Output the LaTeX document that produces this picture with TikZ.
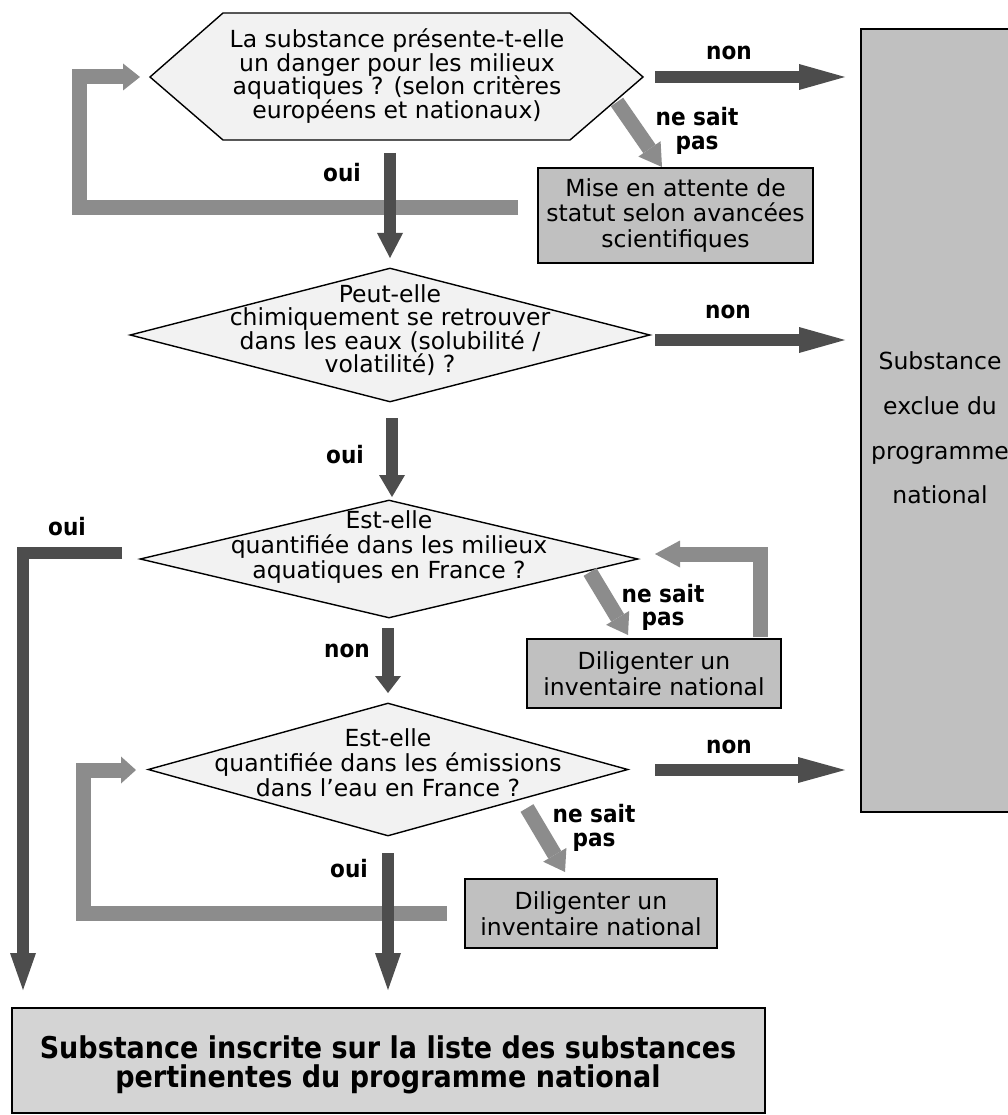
\documentclass[tikz,border=0pt]{standalone}
\usepackage{fontspec}
\setmainfont{DejaVu Sans}
\newfontfamily\lblfont{DejaVu Sans}[FakeStretch=0.9]
\usetikzlibrary{arrows.meta,shapes.geometric}
\definecolor{darkarrow}{HTML}{4D4D4D}
\definecolor{hatcharrow}{HTML}{8C8C8C}
\definecolor{qfill}{HTML}{F2F2F2}
\definecolor{boxfill}{HTML}{C0C0C0}
\definecolor{finalfill}{HTML}{D4D4D4}
\begin{document}
\begin{tikzpicture}[x=1pt,y=-1pt,
  qshape/.style={draw=black, line width=1.4pt, fill=qfill, line join=miter},
  qtext/.style={align=center, inner sep=0pt},
  gbox/.style={draw=black, line width=1.4pt, fill=boxfill, inner sep=0pt, align=center},
  lbl/.style={font=\lblfont\bfseries\fontsize{24}{23.5}\selectfont, align=center, inner sep=0pt},
  darr/.style={draw=darkarrow, line width=12.5pt, line join=miter,
    -{Triangle[width=26pt,length=#1,line width=0pt]}},
  darr/.default=25pt,
  harr/.style={draw=hatcharrow, line width=15pt, line join=miter,
    -{Triangle[width=27pt,length=#1,line width=0pt]}},
  harr/.default=18pt,
]
\useasboundingbox (0,0) rectangle (1008,1115);
\fill[white] (0,0) rectangle (1008,1115);

% ---------- coordinates ----------
\coordinate (a1s) at (390,153);  \coordinate (a1e) at (390,258);
\coordinate (a2s) at (655,77);   \coordinate (a2e) at (845,77);
\coordinate (a3s) at (655,340);  \coordinate (a3e) at (845,340);
\coordinate (a4s) at (392,418);  \coordinate (a4e) at (392,497);
\coordinate (a5s) at (388,628);  \coordinate (a5e) at (388,693);
\coordinate (a6s) at (655,770);  \coordinate (a6e) at (845,770);
\coordinate (a7s) at (388,853);  \coordinate (a7e) at (388,990);
\coordinate (a8s) at (122,553);  \coordinate (a8c) at (23,553);  \coordinate (a8e) at (23,990);

\coordinate (hAs) at (617,102);  \coordinate (hAe) at (662,167);
\coordinate (hBs) at (518,208);  \coordinate (hBc1) at (79,208); \coordinate (hBc2) at (79,77); \coordinate (hBe) at (140,77);
\coordinate (hCs) at (590,572);  \coordinate (hCe) at (628,635);
\coordinate (hDs) at (760,637);  \coordinate (hDc) at (760,554); \coordinate (hDe) at (655,554);
\coordinate (hEs) at (527,808);  \coordinate (hEe) at (565,872);
\coordinate (hFs) at (447,913);  \coordinate (hFc1) at (83,913); \coordinate (hFc2) at (83,770); \coordinate (hFe) at (136,770);

% ---------- question shapes ----------
\draw[qshape] (150,77) -- (223,13) -- (570,13) -- (643,77) -- (570,140) -- (223,140) -- cycle;
\node[qtext, font=\fontsize{23.5}{23.7}\selectfont] (q1) at (397,76)
  {La substance présente-t-elle\\un danger pour les milieux\\aquatiques ? (selon critères\\européens et nationaux)};

\node[diamond, qshape, minimum width=520pt, minimum height=134pt, inner sep=0pt] (d2) at (390,335) {};
\node[qtext, font=\fontsize{23.5}{23}\selectfont] (q2) at (390,330)
  {Peut-elle\\chimiquement se retrouver\\dans les eaux (solubilité /\\volatilité) ?};

\node[diamond, qshape, minimum width=498pt, minimum height=118pt, inner sep=0pt] (d3) at (389,559) {};
\node[qtext, font=\fontsize{23.5}{25}\selectfont] (q3) at (389,547)
  {Est-elle\\quantifiée dans les milieux\\aquatiques en France ?};

\node[diamond, qshape, minimum width=480pt, minimum height=133pt, inner sep=0pt] (d4) at (388,769.5) {};
\node[qtext, font=\fontsize{23.5}{25}\selectfont] (q4) at (388,763)
  {Est-elle\\quantifiée dans les émissions\\dans l’eau en France ?};

% ---------- boxes ----------
\node[gbox, font=\fontsize{23.5}{25.5}\selectfont, minimum width=275pt, minimum height=95pt] (mise) at (675.5,215.5)
  {Mise en attente de\\statut selon avancées\\scientifiques};
\node[gbox, font=\fontsize{23.5}{26}\selectfont, minimum width=254pt, minimum height=69pt] (dil1) at (654,673.5)
  {Diligenter un\\inventaire national};
\node[gbox, font=\fontsize{23.5}{26}\selectfont, minimum width=252pt, minimum height=69pt] (dil2) at (591,913.5)
  {Diligenter un\\inventaire national};

\begin{scope}
\clip (0,0) rectangle (1008,1115);
\node[gbox, minimum width=160pt, minimum height=783pt] (excl) at (941,420.5) {};
\end{scope}
\node[qtext, font=\fontsize{23.5}{44.7}\selectfont] (excltxt) at (940,428)
  {Substance\\exclue du\\programme\\national};

\node[gbox, fill=finalfill, minimum width=753pt, minimum height=105pt] (final) at (388.5,1060.5) {};
\node[qtext, font=\lblfont\bfseries\fontsize{30}{29.5}\selectfont] (finaltxt) at (388,1065)
  {Substance inscrite sur la liste des substances\\pertinentes du programme national};

% ---------- hatched arrows ----------
\draw[harr=22pt] (hAs) -- (hAe);
\draw[harr=17pt] (hBs) -- (hBc1) -- (hBc2) -- (hBe);
\draw[harr=20pt] (hCs) -- (hCe);
\draw[harr=25pt] (hDs) -- (hDc) -- (hDe);
\draw[harr=20pt] (hEs) -- (hEe);
\draw[harr=15pt] (hFs) -- (hFc1) -- (hFc2) -- (hFe);

% ---------- dark arrows ----------
\draw[darr=25pt] (a1s) -- (a1e);
\draw[darr=46pt] (a2s) -- (a2e);
\draw[darr=46pt] (a3s) -- (a3e);
\draw[darr=22pt] (a4s) -- (a4e);
\draw[darr=17pt] (a5s) -- (a5e);
\draw[darr=47pt] (a6s) -- (a6e);
\draw[darr=37pt] (a7s) -- (a7e);
\draw[darr=37pt] (a8s) -- (a8c) -- (a8e);

% ---------- labels ----------
\node[lbl, anchor=base] (lnon1) at (729,60) {non};
\node[lbl, anchor=base] (loui1) at (342,182) {oui};
\node[lbl] (lns1) at (697,131) {ne sait\\pas};
\node[lbl, anchor=base] (lnon2) at (728,318) {non};
\node[lbl, anchor=base] (loui2) at (345,463) {oui};
\node[lbl, anchor=base] (loui3) at (67,535) {oui};
\node[lbl, anchor=base] (lnon3) at (347,657) {non};
\node[lbl] (lns2) at (663,607.5) {ne sait\\pas};
\node[lbl, anchor=base] (lnon4) at (729,753) {non};
\node[lbl] (lns3) at (594,828) {ne sait\\pas};
\node[lbl, anchor=base] (loui4) at (349,877) {oui};
\end{tikzpicture}
\end{document}
